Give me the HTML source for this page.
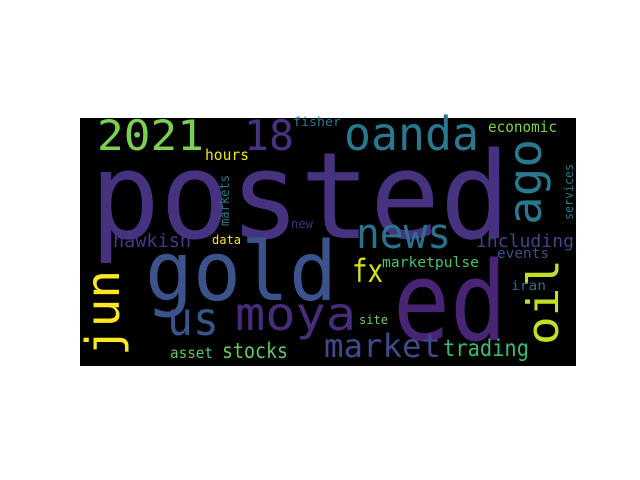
<!DOCTYPE html>
<html><head><meta charset="utf-8"><style>
html,body{margin:0;padding:0;background:#fff;width:640px;height:480px;overflow:hidden}
svg text{font-family:"DejaVu Sans Mono","Liberation Mono",monospace}
</style></head><body>
<svg width="640" height="480">
<rect x="80" y="118" width="496" height="248" fill="#000"/>
<g id="words"></g>
</svg>
<script>
const words=["posted","ed","gold","2021","18","oanda","ago","news","fx","oil","us","moya","jun","market","trading","stocks","asset","hawkish","including","events","marketpulse","iran","site","economic","hours","markets","data","new","fisher","services"];
const colors=["#46327e","#482475","#3b528b","#7ad151","#46327e","#2a788e","#2a788e","#2c728e","#d8e219","#c0df25","#3b528b","#472c7a","#fde725","#3e4a89","#3aba76","#5ec962","#5ec962","#443983","#414487","#3b528b","#4ac16d","#31688e","#6ece58","#7fd34e","#f1e51d","#2a788e","#f1e51d","#46327e","#2a788e","#2a788e"];
// x, baseline y, size, length, rotated
const layout=[[90,238,120,420,0],[393,340,110,114,0],[145,300,82,192,0],[97,150,42,107,0],[244,150,42,50,0],[344,150,46,135,0],[541,225,46,86,1],[356,248,42,95,0],[352,282,32,31,0],[558,345,44,86,1],[167,335,46,52,0],[235,330,46,121,0],[119,356,46,86,1],[324,357,32,117,0],[443,356,23,86,0],[222,358,21,66,0],[170,358,15,43,0],[113,247,19,78,0],[476,247,18,98,0],[497,258,14,52,0],[382,267,14,97,0],[511,290,13,35,0],[359,324,12,29,0],[488,132,15,69,0],[205,160,15,44,0],[229,226,13,51,1],[212,244,12,29,0],[291,228,12,22,0],[293,126,12,48,0],[573,220,12,56,1]];
const g=document.getElementById('words');
words.forEach((w,i)=>{
 const [x,y,s,len,rot]=layout[i];
 const t=document.createElementNS('http://www.w3.org/2000/svg','text');
 
 
 t.setAttribute('x',x);t.setAttribute('y',y);
 t.setAttribute('font-size',s);t.setAttribute('fill',colors[i]);
 t.setAttribute('textLength',len);t.setAttribute('lengthAdjust','spacingAndGlyphs');
 if(rot)t.setAttribute('transform','rotate(-90 '+x+' '+y+')');
 t.textContent=w;g.appendChild(t);
});
</script>
</body></html>
